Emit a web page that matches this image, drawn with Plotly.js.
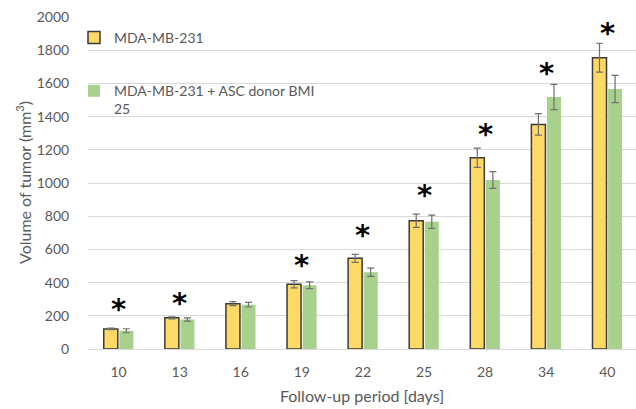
<!DOCTYPE html>
<html>
<head>
<meta charset="utf-8">
<script src="https://cdn.plot.ly/plotly-3.0.1.min.js"></script>
<style>html,body{margin:0;padding:0;background:#fff;}#chart{width:636px;height:409px;}</style>
</head>
<body>
<div id="chart"></div>
<script>
const days = ['10', '13', '16', '19', '22', '25', '28', '34', '40'];
const mdaValues = [121, 188, 273, 390, 546, 773, 1152, 1353, 1755];
const mdaErrors = [5, 6, 12, 22, 24, 40, 58, 65, 87];
const ascValues = [110, 178, 267, 384, 462, 767, 1018, 1518, 1566];
const ascErrors = [12, 10, 14, 20, 25, 40, 50, 76, 82];
const starDays = ['10', '13', '19', '22', '25', '28', '34', '40'];
const starHeights = [271, 307, 536, 717, 958, 1325, 1693, 1934];
const seriesNames = ['MDA-MB-231', 'MDA-MB-231 + ASC donor BMI<br>25'];
const yTitle = 'Volume of tumor (mm<sup>3</sup>)';

const gray = '#595959';
const font = 'Lato, "Open Sans", sans-serif';

const traces = [
  {
    type: 'bar', x: days, y: mdaValues, name: seriesNames[0], legendgroup: 'a',
    marker: {color: '#FFD966', line: {color: '#3a3a3a', width: 1.5}},
    error_y: {type: 'data', array: mdaErrors, visible: true, color: '#6f6f6f', thickness: 1.2, width: 3.5}
  },
  {
    type: 'bar', x: days, y: ascValues, name: seriesNames[1], legendgroup: 'b',
    marker: {color: '#A9D18E', line: {color: '#A9D18E', width: 0}},
    error_y: {type: 'data', array: ascErrors, visible: true, color: '#6f6f6f', thickness: 1.2, width: 3.5}
  }
];

const annotations = starDays.map((d, i) => ({
  x: days.indexOf(d), y: starHeights[i], xref: 'x', yref: 'y', text: '<b>*</b>', showarrow: false,
  yanchor: 'middle', xanchor: 'center', yshift: -5,
  font: {family: '"DejaVu Sans", sans-serif', size: 29, color: '#000'}
}));
annotations.push({
  xref: 'paper', yref: 'paper', x: (23 - 88) / 548, y: 0.5, text: yTitle, textangle: -90,
  showarrow: false, xanchor: 'center', yanchor: 'middle',
  font: {family: font, size: 16, color: gray}
});

const layout = {
  width: 636, height: 409,
  margin: {l: 88, r: 0, t: 17, b: 60, autoexpand: false},
  paper_bgcolor: '#fff', plot_bgcolor: '#fff',
  font: {family: font, color: gray, size: 14},
  barmode: 'group', bargap: 0.49, bargroupgap: 0.1,
  xaxis: {
    type: 'category', range: [-0.5, 8.47],
    showgrid: false, showline: true, linecolor: '#D9D9D9', linewidth: 1,
    ticks: 'outside', ticklen: 10, tickcolor: 'rgba(0,0,0,0)',
    tickfont: {size: 14, color: gray},
    title: {text: 'Follow-up period [days]', font: {size: 16, color: gray}, standoff: 12}
  },
  yaxis: {
    range: [0, 2000], dtick: 200, showgrid: true, gridcolor: '#D9D9D9', gridwidth: 1,
    zeroline: false, showline: false,
    ticks: 'outside', ticklen: 15, tickcolor: 'rgba(0,0,0,0)',
    tickfont: {size: 14, color: gray}
  },
  showlegend: true,
  legend: {
    xref: 'container', yref: 'container', x: 74/636, y: 1 - 22/409,
    xanchor: 'left', yanchor: 'top', bgcolor: 'rgba(0,0,0,0)',
    traceorder: 'grouped', tracegroupgap: 32, valign: 'top',
    font: {size: 14, color: gray}
  },
  annotations: annotations
};

Plotly.newPlot('chart', traces, layout, {displayModeBar: false, staticPlot: true});
</script>
</body>
</html>
